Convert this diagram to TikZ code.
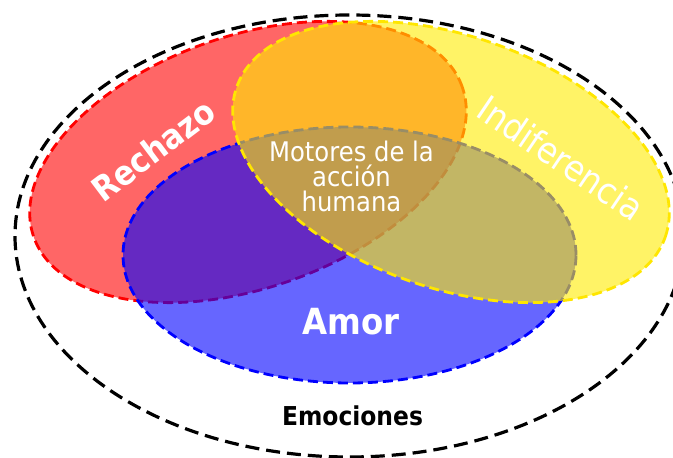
\documentclass[tikz,border=0pt]{standalone}
\usepackage{fontspec}
\newfontfamily\tah[FakeStretch=0.9]{DejaVu Sans}
\definecolor{cRed}{RGB}{255,0,0}
\definecolor{cBlue}{RGB}{0,0,255}
\definecolor{cYel}{RGB}{255,235,0}
\definecolor{cYelB}{RGB}{255,230,0}
\tikzset{
  venn/.style={line width=2.8pt, dash pattern=on 10pt off 5pt, fill opacity=0.6},
  outerline/.style={line width=3.2pt, dash pattern=on 14pt off 7pt, draw=black},
  lbl/.style={text=white, inner sep=0pt, font=\tah},
}
\begin{document}
\begin{tikzpicture}[x=1pt,y=1pt]
\useasboundingbox (0,0) rectangle (673,458);
% outer ellipse
\draw[outerline] (349.5,222) ellipse [x radius=334.5pt, y radius=221pt];
% red
\draw[venn, draw=cRed, fill=cRed, rotate around={19.3:(248,296)}] (248,296) ellipse [x radius=227pt, y radius=126pt];
% blue
\draw[venn, draw=cBlue, fill=cBlue] (349.5,203) ellipse [x radius=226.5pt, y radius=128pt];
% yellow
\draw[venn, draw=cYelB, fill=cYel, rotate around={-19.3:(451,296)}] (451,296) ellipse [x radius=227pt, y radius=126pt];
% labels
\node[lbl, font=\tah\bfseries\fontsize{34}{34}\selectfont, rotate=37] (rech) at (153,308) {Rechazo};
\node[lbl, font=\tah\fontsize{36}{36}\selectfont, rotate=-34] (indif) at (561,300) {Indiferencia};
\node[lbl, font=\tah\fontsize{27}{25}\selectfont, align=center] (mot) at (351.5,282) {Motores de la\\acción\\humana};
\node[lbl, font=\tah\bfseries\fontsize{36}{36}\selectfont] (amor) at (351,136) {Amor};
\node[inner sep=0pt, font=\tah\bfseries\fontsize{26}{26}\selectfont] (emo) at (352.5,42) {Emociones};
\end{tikzpicture}
\end{document}
